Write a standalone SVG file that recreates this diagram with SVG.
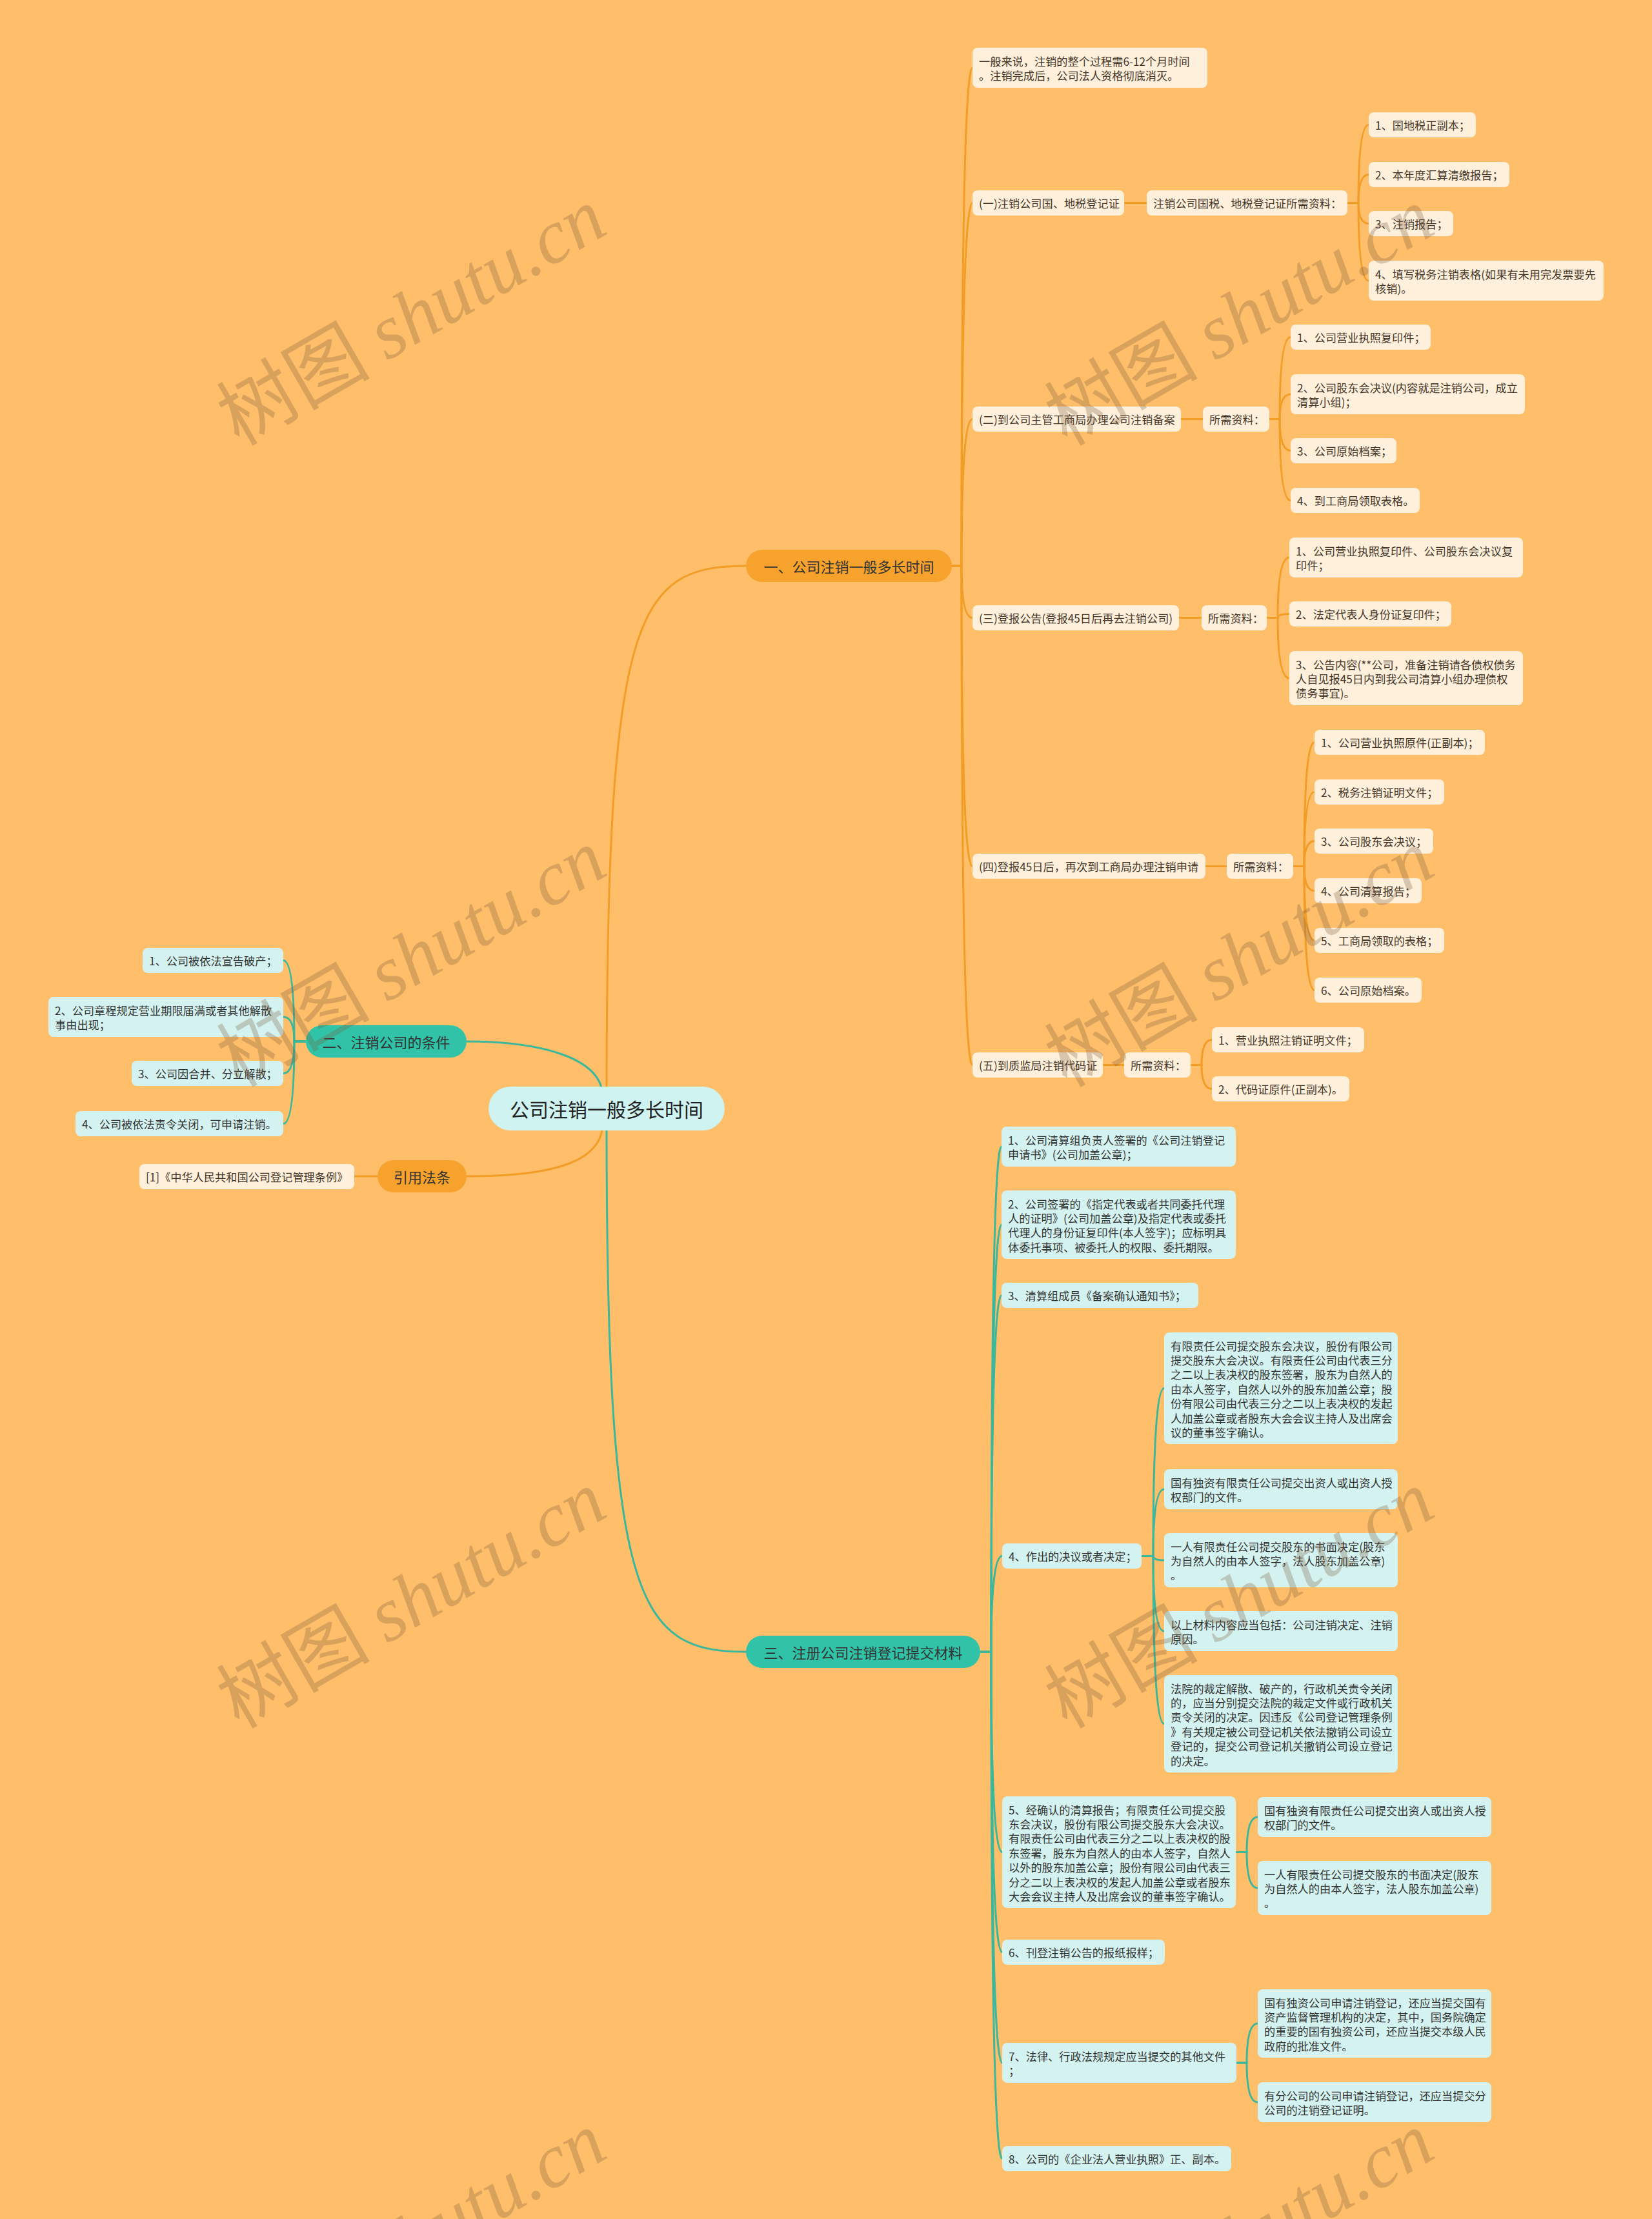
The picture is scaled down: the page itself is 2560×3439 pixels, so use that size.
<svg xmlns="http://www.w3.org/2000/svg" width="2560" height="3439" viewBox="0 0 2560 3439">
<style>
.bg{fill:#FEBE6A}
.on{fill:#F7A22C}
.cn{fill:#FEF0DA}
.tn{fill:#30C3A7}
.ln{fill:#D4F3F0}
.rt{fill:#CFF3F1}
text{font-family:"Noto Sans CJK SC","Noto Sans",sans-serif}
.t{font-size:17.2px;fill:#333;dominant-baseline:central}
.tb{font-size:17.2px;fill:#45362a;dominant-baseline:central}
.tp{font-size:22px;fill:#333;text-anchor:middle;dominant-baseline:central}
.tr{font-size:30px;fill:#222;text-anchor:middle;dominant-baseline:central}
.co{fill:none;stroke:#F29D25;stroke-width:3}
.ct{fill:none;stroke:#3BB79C;stroke-width:3}
.wm{font-size:119px;fill:#7a5a3a;opacity:0.28;text-anchor:middle}
.wm tspan.l{font-family:"Liberation Serif",serif;font-style:italic}
</style>
<rect class="bg" x="0" y="0" width="2560" height="3439"/>

<g id="connectors">
<path class="co" d="M 940 1700 C 940 950, 985 877, 1156 877"/>
<path class="co" d="M 934 1740 C 934 1800, 860 1823, 723 1823"/>
<path class="co" d="M 585 1823 L 549 1823"/>
<path class="co" d="M 1475 877 L 1490 877 Q 1490 105 1507 105"/>
<path class="co" d="M 1475 877 L 1490 877 Q 1490 314.5 1507 314.5"/>
<path class="co" d="M 1475 877 L 1490 877 Q 1490 649.5 1507 649.5"/>
<path class="co" d="M 1475 877 L 1490 877 Q 1490 957.5 1507 957.5"/>
<path class="co" d="M 1475 877 L 1490 877 Q 1490 1342.5 1507 1342.5"/>
<path class="co" d="M 1475 877 L 1490 877 Q 1490 1650.5 1507 1650.5"/>
<path class="co" d="M 1742 314.5 L 1777 314.5"/>
<path class="co" d="M 2088 314.5 L 2105 314.5 Q 2105 193.5 2121 193.5"/>
<path class="co" d="M 2088 314.5 L 2105 314.5 Q 2105 270.5 2121 270.5"/>
<path class="co" d="M 2088 314.5 L 2105 314.5 Q 2105 346.5 2121 346.5"/>
<path class="co" d="M 2088 314.5 L 2105 314.5 Q 2105 435 2121 435"/>
<path class="co" d="M 1830 649.5 L 1864 649.5"/>
<path class="co" d="M 1967 649.5 L 1983 649.5 Q 1983 522.5 2000 522.5"/>
<path class="co" d="M 1967 649.5 L 1983 649.5 Q 1983 611 2000 611"/>
<path class="co" d="M 1967 649.5 L 1983 649.5 Q 1983 698.5 2000 698.5"/>
<path class="co" d="M 1967 649.5 L 1983 649.5 Q 1983 775.5 2000 775.5"/>
<path class="co" d="M 1827 957.5 L 1862 957.5"/>
<path class="co" d="M 1963 957.5 L 1980 957.5 Q 1980 864 1998 864"/>
<path class="co" d="M 1963 957.5 L 1980 957.5 Q 1980 951.5 1998 951.5"/>
<path class="co" d="M 1963 957.5 L 1980 957.5 Q 1980 1051 1998 1051"/>
<path class="co" d="M 1868 1342.5 L 1901 1342.5"/>
<path class="co" d="M 2004 1342.5 L 2021 1342.5 Q 2021 1150.5 2037 1150.5"/>
<path class="co" d="M 2004 1342.5 L 2021 1342.5 Q 2021 1227.5 2037 1227.5"/>
<path class="co" d="M 2004 1342.5 L 2021 1342.5 Q 2021 1303.5 2037 1303.5"/>
<path class="co" d="M 2004 1342.5 L 2021 1342.5 Q 2021 1380.5 2037 1380.5"/>
<path class="co" d="M 2004 1342.5 L 2021 1342.5 Q 2021 1457.5 2037 1457.5"/>
<path class="co" d="M 2004 1342.5 L 2021 1342.5 Q 2021 1534.5 2037 1534.5"/>
<path class="co" d="M 1709 1650.5 L 1742 1650.5"/>
<path class="co" d="M 1845 1650.5 L 1862 1650.5 Q 1862 1611.5 1878 1611.5"/>
<path class="co" d="M 1845 1650.5 L 1862 1650.5 Q 1862 1687.5 1878 1687.5"/>

<path class="ct" d="M 723 1614 C 840 1614, 934 1640, 934 1700"/>
<path class="ct" d="M 940 1740 C 940 2480, 985 2560, 1156 2560"/>
<path class="ct" d="M 474 1614 L 456 1614 Q 456 1488.5 439 1488.5"/>
<path class="ct" d="M 474 1614 L 456 1614 Q 456 1576 439 1576"/>
<path class="ct" d="M 474 1614 L 456 1614 Q 456 1663.5 439 1663.5"/>
<path class="ct" d="M 474 1614 L 456 1614 Q 456 1741.5 439 1741.5"/>
<path class="ct" d="M 1519 2560 L 1536 2560 Q 1536 1777 1552 1777"/>
<path class="ct" d="M 1519 2560 L 1536 2560 Q 1536 1898 1552 1898"/>
<path class="ct" d="M 1519 2560 L 1536 2560 Q 1536 2007.5 1552 2007.5"/>
<path class="ct" d="M 1519 2560 L 1536 2560 Q 1536 2411.5 1553 2411.5"/>
<path class="ct" d="M 1519 2560 L 1536 2560 Q 1536 2870.5 1553 2870.5"/>
<path class="ct" d="M 1519 2560 L 1536 2560 Q 1536 3025.5 1553 3025.5"/>
<path class="ct" d="M 1519 2560 L 1536 2560 Q 1536 3197 1553 3197"/>
<path class="ct" d="M 1519 2560 L 1536 2560 Q 1536 3345.5 1553 3345.5"/>
<path class="ct" d="M 1769 2411.5 L 1787 2411.5 Q 1787 2151.5 1804 2151.5"/>
<path class="ct" d="M 1769 2411.5 L 1787 2411.5 Q 1787 2308 1804 2308"/>
<path class="ct" d="M 1769 2411.5 L 1787 2411.5 Q 1787 2418 1804 2418"/>
<path class="ct" d="M 1769 2411.5 L 1787 2411.5 Q 1787 2528 1804 2528"/>
<path class="ct" d="M 1769 2411.5 L 1787 2411.5 Q 1787 2671.5 1804 2671.5"/>
<path class="ct" d="M 1915 2870.5 L 1932 2870.5 Q 1932 2816 1949 2816"/>
<path class="ct" d="M 1915 2870.5 L 1932 2870.5 Q 1932 2926 1949 2926"/>
<path class="ct" d="M 1916 3197 L 1932 3197 Q 1932 3136 1949 3136"/>
<path class="ct" d="M 1916 3197 L 1932 3197 Q 1932 3258 1949 3258"/>
</g>

<g id="root"><rect class="rt" x="757" y="1684" width="366" height="68" rx="34"/><text class="tr" x="940" y="1718">公司注销一般多长时间</text></g>

<g id="b1"><rect class="on" x="1156" y="852" width="319" height="50" rx="25"/><text class="tp" x="1315.5" y="877">一、公司注销一般多长时间</text></g>
<g id="b1-note"><rect class="cn" x="1507" y="74" width="364" height="62" rx="8"/><text class="tb"><tspan x="1517" y="93.5">一般来说，注销的整个过程需6-12个月时间</tspan><tspan x="1517" y="115.9">。注销完成后，公司法人资格彻底消灭。</tspan></text></g>

<g id="b1-1"><rect class="cn" x="1507" y="295" width="235" height="39" rx="8"/><text class="tb" x="1517" y="314.5">(一)注销公司国、地税登记证</text></g>
<g id="b1-1r"><rect class="cn" x="1777" y="295" width="311" height="39" rx="8"/><text class="tb" x="1787" y="314.5">注销公司国税、地税登记证所需资料：</text></g>
<g id="b1-1a"><rect class="cn" x="2121" y="174" width="166" height="39" rx="8"/><text class="tb" x="2131" y="193.5">1、国地税正副本；</text></g>
<g id="b1-1b"><rect class="cn" x="2121" y="251" width="218" height="39" rx="8"/><text class="tb" x="2131" y="270.5">2、本年度汇算清缴报告；</text></g>
<g id="b1-1c"><rect class="cn" x="2121" y="327" width="131" height="39" rx="8"/><text class="tb" x="2131" y="346.5">3、注销报告；</text></g>
<g id="b1-1d"><rect class="cn" x="2121" y="404" width="364" height="62" rx="8"/><text class="tb"><tspan x="2131" y="423.5">4、填写税务注销表格(如果有未用完发票要先</tspan><tspan x="2131" y="445.9">核销)。</tspan></text></g>

<g id="b1-2"><rect class="cn" x="1507" y="630" width="323" height="39" rx="8"/><text class="tb" x="1517" y="649.5">(二)到公司主管工商局办理公司注销备案</text></g>
<g id="b1-2r"><rect class="cn" x="1864" y="630" width="103" height="39" rx="8"/><text class="tb" x="1874" y="649.5">所需资料：</text></g>
<g id="b1-2a"><rect class="cn" x="2000" y="503" width="217" height="39" rx="8"/><text class="tb" x="2010" y="522.5">1、公司营业执照复印件；</text></g>
<g id="b1-2b"><rect class="cn" x="2000" y="580" width="363" height="62" rx="8"/><text class="tb"><tspan x="2010" y="599.5">2、公司股东会决议(内容就是注销公司，成立</tspan><tspan x="2010" y="621.9">清算小组)；</tspan></text></g>
<g id="b1-2c"><rect class="cn" x="2000" y="679" width="164" height="39" rx="8"/><text class="tb" x="2010" y="698.5">3、公司原始档案；</text></g>
<g id="b1-2d"><rect class="cn" x="2000" y="756" width="200" height="39" rx="8"/><text class="tb" x="2010" y="775.5">4、到工商局领取表格。</text></g>

<g id="b1-3"><rect class="cn" x="1507" y="938" width="320" height="39" rx="8"/><text class="tb" x="1517" y="957.5">(三)登报公告(登报45日后再去注销公司)</text></g>
<g id="b1-3r"><rect class="cn" x="1862" y="938" width="101" height="39" rx="8"/><text class="tb" x="1872" y="957.5">所需资料：</text></g>
<g id="b1-3a"><rect class="cn" x="1998" y="833" width="362" height="62" rx="8"/><text class="tb"><tspan x="2008" y="852.5">1、公司营业执照复印件、公司股东会决议复</tspan><tspan x="2008" y="874.9">印件；</tspan></text></g>
<g id="b1-3b"><rect class="cn" x="1998" y="932" width="251" height="39" rx="8"/><text class="tb" x="2008" y="951.5">2、法定代表人身份证复印件；</text></g>
<g id="b1-3c"><rect class="cn" x="1998" y="1009" width="362" height="84" rx="8"/><text class="tb"><tspan x="2008" y="1028.5">3、公告内容(**公司，准备注销请各债权债务</tspan><tspan x="2008" y="1050.9">人自见报45日内到我公司清算小组办理债权</tspan><tspan x="2008" y="1073.3">债务事宜)。</tspan></text></g>

<g id="b1-4"><rect class="cn" x="1507" y="1323" width="361" height="39" rx="8"/><text class="tb" x="1517" y="1342.5">(四)登报45日后，再次到工商局办理注销申请</text></g>
<g id="b1-4r"><rect class="cn" x="1901" y="1323" width="103" height="39" rx="8"/><text class="tb" x="1911" y="1342.5">所需资料：</text></g>
<g id="b1-4a"><rect class="cn" x="2037" y="1131" width="264" height="39" rx="8"/><text class="tb" x="2047" y="1150.5">1、公司营业执照原件(正副本)；</text></g>
<g id="b1-4b"><rect class="cn" x="2037" y="1208" width="201" height="39" rx="8"/><text class="tb" x="2047" y="1227.5">2、税务注销证明文件；</text></g>
<g id="b1-4c"><rect class="cn" x="2037" y="1284" width="184" height="39" rx="8"/><text class="tb" x="2047" y="1303.5">3、公司股东会决议；</text></g>
<g id="b1-4d"><rect class="cn" x="2037" y="1361" width="166" height="39" rx="8"/><text class="tb" x="2047" y="1380.5">4、公司清算报告；</text></g>
<g id="b1-4e"><rect class="cn" x="2037" y="1438" width="201" height="39" rx="8"/><text class="tb" x="2047" y="1457.5">5、工商局领取的表格；</text></g>
<g id="b1-4f"><rect class="cn" x="2037" y="1515" width="166" height="39" rx="8"/><text class="tb" x="2047" y="1534.5">6、公司原始档案。</text></g>

<g id="b1-5"><rect class="cn" x="1507" y="1631" width="202" height="39" rx="8"/><text class="tb" x="1517" y="1650.5">(五)到质监局注销代码证</text></g>
<g id="b1-5r"><rect class="cn" x="1742" y="1631" width="103" height="39" rx="8"/><text class="tb" x="1752" y="1650.5">所需资料：</text></g>
<g id="b1-5a"><rect class="cn" x="1878" y="1592" width="236" height="39" rx="8"/><text class="tb" x="1888" y="1611.5">1、营业执照注销证明文件；</text></g>
<g id="b1-5b"><rect class="cn" x="1878" y="1668" width="213" height="39" rx="8"/><text class="tb" x="1888" y="1687.5">2、代码证原件(正副本)。</text></g>

<g id="b2"><rect class="tn" x="474" y="1589" width="249" height="50" rx="25"/><text class="tp" x="598.5" y="1614">二、注销公司的条件</text></g>
<g id="b2-1"><rect class="ln" x="221" y="1469" width="218" height="39" rx="8"/><text class="t" x="231" y="1488.5">1、公司被依法宣告破产；</text></g>
<g id="b2-2"><rect class="ln" x="75" y="1545" width="364" height="62" rx="8"/><text class="t"><tspan x="85" y="1564.5">2、公司章程规定营业期限届满或者其他解散</tspan><tspan x="85" y="1586.9">事由出现；</tspan></text></g>
<g id="b2-3"><rect class="ln" x="204" y="1644" width="235" height="39" rx="8"/><text class="t" x="214" y="1663.5">3、公司因合并、分立解散；</text></g>
<g id="b2-4"><rect class="ln" x="117" y="1722" width="322" height="39" rx="8"/><text class="t" x="127" y="1741.5">4、公司被依法责令关闭，可申请注销。</text></g>

<g id="b4"><rect class="on" x="585" y="1798" width="138" height="50" rx="25"/><text class="tp" x="654" y="1823">引用法条</text></g>
<g id="b4-1"><rect class="cn" x="216" y="1804" width="333" height="39" rx="8"/><text class="tb" x="226" y="1823.5">[1]《中华人民共和国公司登记管理条例》</text></g>

<g id="b3"><rect class="tn" x="1156" y="2535" width="363" height="50" rx="25"/><text class="tp" x="1337.5" y="2560">三、注册公司注销登记提交材料</text></g>
<g id="b3-1"><rect class="ln" x="1552" y="1746" width="363" height="62" rx="8"/><text class="t"><tspan x="1562" y="1765.5">1、公司清算组负责人签署的《公司注销登记</tspan><tspan x="1562" y="1787.9">申请书》(公司加盖公章)；</tspan></text></g>
<g id="b3-2"><rect class="ln" x="1552" y="1845" width="363" height="106" rx="8"/><text class="t"><tspan x="1562" y="1864.5">2、公司签署的《指定代表或者共同委托代理</tspan><tspan x="1562" y="1886.9">人的证明》(公司加盖公章)及指定代表或委托</tspan><tspan x="1562" y="1909.3">代理人的身份证复印件(本人签字)；应标明具</tspan><tspan x="1562" y="1931.7">体委托事项、被委托人的权限、委托期限。</tspan></text></g>
<g id="b3-3"><rect class="ln" x="1552" y="1988" width="305" height="39" rx="8"/><text class="t" x="1562" y="2007.5">3、清算组成员《备案确认通知书》；</text></g>
<g id="b3-4"><rect class="ln" x="1553" y="2392" width="216" height="39" rx="8"/><text class="t" x="1563" y="2411.5">4、作出的决议或者决定；</text></g>
<g id="b3-4a"><rect class="ln" x="1804" y="2065" width="362" height="173" rx="8"/><text class="t"><tspan x="1814" y="2084.5">有限责任公司提交股东会决议，股份有限公司</tspan><tspan x="1814" y="2106.9">提交股东大会决议。有限责任公司由代表三分</tspan><tspan x="1814" y="2129.3">之二以上表决权的股东签署，股东为自然人的</tspan><tspan x="1814" y="2151.7">由本人签字，自然人以外的股东加盖公章；股</tspan><tspan x="1814" y="2174.1">份有限公司由代表三分之二以上表决权的发起</tspan><tspan x="1814" y="2196.5">人加盖公章或者股东大会会议主持人及出席会</tspan><tspan x="1814" y="2218.9">议的董事签字确认。</tspan></text></g>
<g id="b3-4b"><rect class="ln" x="1804" y="2277" width="362" height="62" rx="8"/><text class="t"><tspan x="1814" y="2296.5">国有独资有限责任公司提交出资人或出资人授</tspan><tspan x="1814" y="2318.9">权部门的文件。</tspan></text></g>
<g id="b3-4c"><rect class="ln" x="1804" y="2376" width="362" height="84" rx="8"/><text class="t"><tspan x="1814" y="2395.5">一人有限责任公司提交股东的书面决定(股东</tspan><tspan x="1814" y="2417.9">为自然人的由本人签字，法人股东加盖公章)</tspan><tspan x="1814" y="2440.3">。</tspan></text></g>
<g id="b3-4d"><rect class="ln" x="1804" y="2497" width="362" height="62" rx="8"/><text class="t"><tspan x="1814" y="2516.5">以上材料内容应当包括：公司注销决定、注销</tspan><tspan x="1814" y="2538.9">原因。</tspan></text></g>
<g id="b3-4e"><rect class="ln" x="1804" y="2596" width="362" height="151" rx="8"/><text class="t"><tspan x="1814" y="2615.5">法院的裁定解散、破产的，行政机关责令关闭</tspan><tspan x="1814" y="2637.9">的，应当分别提交法院的裁定文件或行政机关</tspan><tspan x="1814" y="2660.3">责令关闭的决定。因违反《公司登记管理条例</tspan><tspan x="1814" y="2682.7">》有关规定被公司登记机关依法撤销公司设立</tspan><tspan x="1814" y="2705.1">登记的，提交公司登记机关撤销公司设立登记</tspan><tspan x="1814" y="2727.5">的决定。</tspan></text></g>
<g id="b3-5"><rect class="ln" x="1553" y="2784" width="362" height="173" rx="8"/><text class="t"><tspan x="1563" y="2803.5">5、经确认的清算报告；有限责任公司提交股</tspan><tspan x="1563" y="2825.9">东会决议，股份有限公司提交股东大会决议。</tspan><tspan x="1563" y="2848.3">有限责任公司由代表三分之二以上表决权的股</tspan><tspan x="1563" y="2870.7">东签署，股东为自然人的由本人签字，自然人</tspan><tspan x="1563" y="2893.1">以外的股东加盖公章；股份有限公司由代表三</tspan><tspan x="1563" y="2915.5">分之二以上表决权的发起人加盖公章或者股东</tspan><tspan x="1563" y="2937.9">大会会议主持人及出席会议的董事签字确认。</tspan></text></g>
<g id="b3-5a"><rect class="ln" x="1949" y="2785" width="362" height="62" rx="8"/><text class="t"><tspan x="1959" y="2804.5">国有独资有限责任公司提交出资人或出资人授</tspan><tspan x="1959" y="2826.9">权部门的文件。</tspan></text></g>
<g id="b3-5b"><rect class="ln" x="1949" y="2884" width="362" height="84" rx="8"/><text class="t"><tspan x="1959" y="2903.5">一人有限责任公司提交股东的书面决定(股东</tspan><tspan x="1959" y="2925.9">为自然人的由本人签字，法人股东加盖公章)</tspan><tspan x="1959" y="2948.3">。</tspan></text></g>
<g id="b3-6"><rect class="ln" x="1553" y="3006" width="252" height="39" rx="8"/><text class="t" x="1563" y="3025.5">6、刊登注销公告的报纸报样；</text></g>
<g id="b3-7"><rect class="ln" x="1553" y="3166" width="363" height="62" rx="8"/><text class="t"><tspan x="1563" y="3185.5">7、法律、行政法规规定应当提交的其他文件</tspan><tspan x="1563" y="3207.9">；</tspan></text></g>
<g id="b3-7a"><rect class="ln" x="1949" y="3083" width="362" height="106" rx="8"/><text class="t"><tspan x="1959" y="3102.5">国有独资公司申请注销登记，还应当提交国有</tspan><tspan x="1959" y="3124.9">资产监督管理机构的决定，其中，国务院确定</tspan><tspan x="1959" y="3147.3">的重要的国有独资公司，还应当提交本级人民</tspan><tspan x="1959" y="3169.7">政府的批准文件。</tspan></text></g>
<g id="b3-7b"><rect class="ln" x="1949" y="3227" width="362" height="62" rx="8"/><text class="t"><tspan x="1959" y="3246.5">有分公司的公司申请注销登记，还应当提交分</tspan><tspan x="1959" y="3268.9">公司的注销登记证明。</tspan></text></g>
<g id="b3-8"><rect class="ln" x="1553" y="3326" width="355" height="39" rx="8"/><text class="t" x="1563" y="3345.5">8、公司的《企业法人营业执照》正、副本。</text></g>

<g id="watermarks">
<text class="wm" transform="rotate(-30 658 526)" x="658" y="526">树图 <tspan class="l">shutu.cn</tspan></text>
<text class="wm" transform="rotate(-30 1941 526)" x="1941" y="526">树图 <tspan class="l">shutu.cn</tspan></text>
<text class="wm" transform="rotate(-30 658 1520)" x="658" y="1520">树图 <tspan class="l">shutu.cn</tspan></text>
<text class="wm" transform="rotate(-30 1941 1520)" x="1941" y="1520">树图 <tspan class="l">shutu.cn</tspan></text>
<text class="wm" transform="rotate(-30 658 2514)" x="658" y="2514">树图 <tspan class="l">shutu.cn</tspan></text>
<text class="wm" transform="rotate(-30 1941 2514)" x="1941" y="2514">树图 <tspan class="l">shutu.cn</tspan></text>
<text class="wm" transform="rotate(-30 658 3508)" x="658" y="3508">树图 <tspan class="l">shutu.cn</tspan></text>
<text class="wm" transform="rotate(-30 1941 3508)" x="1941" y="3508">树图 <tspan class="l">shutu.cn</tspan></text>
</g>
</svg>
